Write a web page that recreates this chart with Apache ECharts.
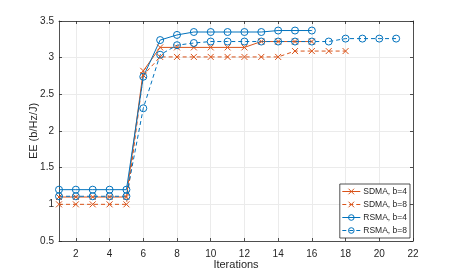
<!DOCTYPE html>
<html><head><meta charset="utf-8">
<script src="https://cdn.jsdelivr.net/npm/echarts@6/dist/echarts.min.js"></script>
<style>html,body{margin:0;padding:0;background:#fff}#c{width:457px;height:271px}</style>
</head><body><div id="c"></div>
<script>
const iterationsA = [1,2,3,4,5,6,7,8,9,10,11,12,13,14,15,16];
const sdma4 = [1.10,1.10,1.10,1.10,1.10,2.82,3.14,3.14,3.14,3.14,3.14,3.14,3.22,3.22,3.22,3.22];
const iterationsB = [1,2,3,4,5,6,7,8,9,10,11,12,13,14,15,16,17,18];
const sdma8 = [1.00,1.00,1.00,1.00,1.00,2.76,3.01,3.01,3.01,3.01,3.01,3.01,3.01,3.01,3.09,3.09,3.09,3.09];
const rsma4 = [1.20,1.20,1.20,1.20,1.20,2.74,3.24,3.31,3.35,3.35,3.35,3.35,3.35,3.37,3.37,3.37];
const iterationsC = [1,2,3,4,5,6,7,8,9,10,11,12,13,14,15,16,17,18,19,20,21];
const rsma8 = [1.11,1.11,1.11,1.11,1.11,2.31,3.04,3.17,3.20,3.22,3.22,3.22,3.22,3.22,3.22,3.22,3.22,3.26,3.26,3.26,3.26];
const xTicks = [2,4,6,8,10,12,14,16,18,20,22];
const seriesNames = ['SDMA, b=4','SDMA, b=8','RSMA, b=4','RSMA, b=8'];

const ORANGE = '#D95319', BLUE = '#0072BD';
const CROSS = 'path://M0,0L10,10M10,0L0,10';
const zip = (xs, ys) => xs.map((x,i)=>[x, ys[i]]);
function mk(name, xs, ys, color, dashed, cross){
  return {
    name, type:'line', data: zip(xs, ys),
    symbol: cross ? CROSS : 'circle',
    symbolSize: cross ? 6 : 7,
    showAllSymbol: true,
    lineStyle:{color, width:1, type: dashed ? [4,3] : 'solid'},
    itemStyle:{color:'rgba(0,0,0,0)', borderColor: color, borderWidth:1},
    emphasis:{disabled:true},
    animation:false, z: 3
  };
}
const font = {fontFamily:'Liberation Sans', fontSize:10, color:'#262626'};
const chart = echarts.init(document.getElementById('c'), null, {renderer:'canvas'});
const axisCommon = {
  axisLine:{show:true, onZero:false, lineStyle:{color:'#262626', width:0.8}},
  axisTick:{show:true, inside:true, length:3, lineStyle:{color:'#262626', width:0.8}},
};
chart.setOption({
  animation:false,
  grid:{left:59, right:44, top:21, bottom:30, outerBoundsMode:'none', containLabel:false},
  xAxis:[{
    type:'value', min:1, max:22, interval:2,
    ...axisCommon,
    axisLabel:{...font, margin:8, customValues: xTicks, formatter: v => String(v)},
    axisTick:{show:true, inside:true, length:3, customValues: xTicks, lineStyle:{color:'#262626', width:0.8}},
    splitLine:{show:true, lineStyle:{color:'#ebebeb', width:1}},
    name:'Iterations', nameLocation:'middle', nameGap:18, nameMoveOverlap:false, nameTextStyle:{...font, fontSize:11}
  },{
    type:'value', min:1, max:22, position:'top',
    ...axisCommon,
    axisLabel:{show:false},
    axisTick:{show:true, inside:true, length:3, customValues: xTicks, lineStyle:{color:'#262626', width:0.8}},
    splitLine:{show:false}
  }],
  yAxis:[{
    type:'value', min:0.5, max:3.5, interval:0.5,
    ...axisCommon,
    axisLabel:{...font, margin:5, formatter: v => String(v)},
    splitLine:{show:true, lineStyle:{color:'#ebebeb', width:1}},
    name:'EE (b/Hz/J)', nameLocation:'middle', nameGap:20, nameRotate:90, nameMoveOverlap:false, nameTextStyle:{...font, fontSize:11}
  },{
    type:'value', min:0.5, max:3.5, interval:0.5, position:'right',
    ...axisCommon,
    axisLabel:{show:false},
    splitLine:{show:false}
  }],
  legend:{
    orient:'vertical', right:47, bottom:33,
    data: seriesNames,
    itemWidth:18, itemHeight:7, itemGap:4,
    textStyle:{...font, fontSize:8.5, padding:[0,0,0,-2]},
    lineStyle:{width:1},
    itemStyle:{borderWidth:1},
    backgroundColor:'#fff', borderColor:'#262626', borderWidth:0.8, padding:[3,3,3,2],
    borderRadius:0
  },
  series:[
    mk(seriesNames[0], iterationsA, sdma4, ORANGE, false, true),
    mk(seriesNames[1], iterationsB, sdma8, ORANGE, true, true),
    mk(seriesNames[2], iterationsA, rsma4, BLUE, false, false),
    mk(seriesNames[3], iterationsC, rsma8, BLUE, true, false)
  ]
});
</script></body></html>
